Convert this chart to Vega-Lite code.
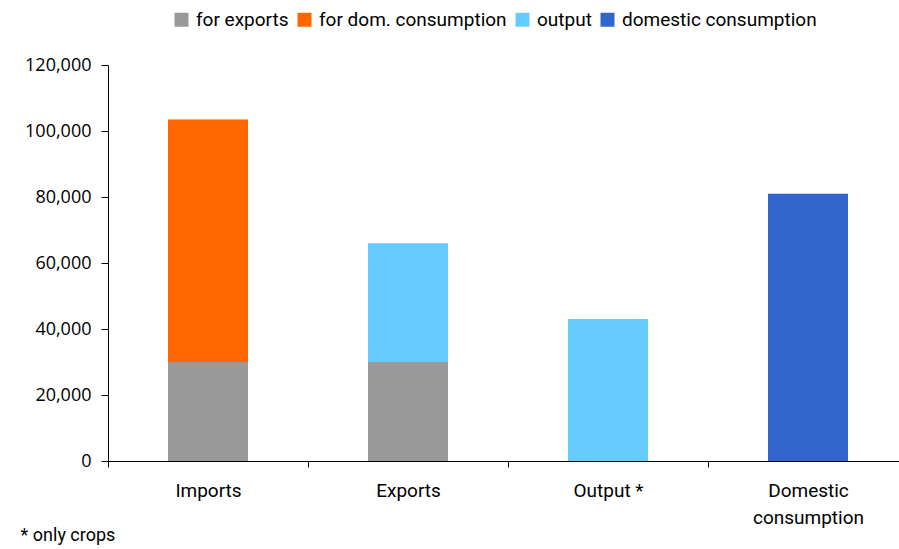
{
  "$schema": "https://vega.github.io/schema/vega-lite/v6.json",
  "autosize": "none",
  "width": 800,
  "height": 396,
  "padding": {"left": 108, "top": 65, "right": 0, "bottom": 88},
  "background": "white",
  "config": {"view": {"stroke": null}, "font": "Open Sans"},
  "title": {"text": "* only crops", "orient": "bottom", "anchor": "start", "dx": -4, "offset": 0, "fontSize": 18, "font": "Roboto", "fontWeight": "normal", "color": "#000000", "baseline": "top"},
  "data": {"values": [
    {"category": "Imports", "series": "for exports", "value": 30000, "rank": 1},
    {"category": "Imports", "series": "for dom. consumption", "value": 73500, "rank": 2},
    {"category": "Exports", "series": "for exports", "value": 30000, "rank": 1},
    {"category": "Exports", "series": "output", "value": 36000, "rank": 2},
    {"category": "Output *", "series": "output", "value": 43000, "rank": 1},
    {"category": "Domestic consumption", "series": "domestic consumption", "value": 81000, "rank": 1}
  ]},
  "mark": {"type": "bar"},
  "encoding": {
    "x": {"field": "category", "type": "nominal", "sort": ["Imports", "Exports", "Output *", "Domestic consumption"],
      "scale": {"paddingInner": 0.6, "paddingOuter": 0.3},
      "axis": {"title": null, "labelAngle": 0, "ticks": true, "tickBand": "center", "tickOffset": -100, "labelOffset": 100, "tickWidth": 1, "domainColor": "#000000", "tickColor": "#000000", "tickSize": 6, "tickOpacity": 1,
        "labelFont": "Roboto", "labelFontSize": 19, "labelColor": "#000000", "labelPadding": 14,
        "labelExpr": "datum.value == 'Domestic consumption' ? ['Domestic', 'consumption'] : datum.value", "labelLineHeight": 27}},
    "y": {"field": "value", "type": "quantitative", "stack": "zero",
      "scale": {"domain": [0, 120000], "nice": false},
      "axis": {"title": null, "grid": false, "values": [0, 20000, 40000, 60000, 80000, 100000, 120000], "format": ",d", "labelOverlap": false,
        "domainColor": "#000000", "tickColor": "#000000", "tickSize": 7, "labelFont": "Open Sans", "labelFontSize": 18, "labelColor": "#000000", "labelPadding": 10}},
    "color": {"field": "series", "type": "nominal",
      "scale": {"domain": ["for exports", "for dom. consumption", "output", "domestic consumption"], "range": ["#999999", "#FF6600", "#66CCFF", "#3366CC"]},
      "legend": {"title": null, "orient": "none", "direction": "horizontal", "legendX": 64, "legendY": -55, "symbolType": "square", "symbolSize": 196, "symbolStrokeWidth": 0,
        "labelFont": "Roboto", "labelFontSize": 19, "labelColor": "#000000", "labelOffset": 5, "columnPadding": 6, "labelLimit": 400}},
    "order": {"field": "rank", "type": "quantitative"}
  }
}
